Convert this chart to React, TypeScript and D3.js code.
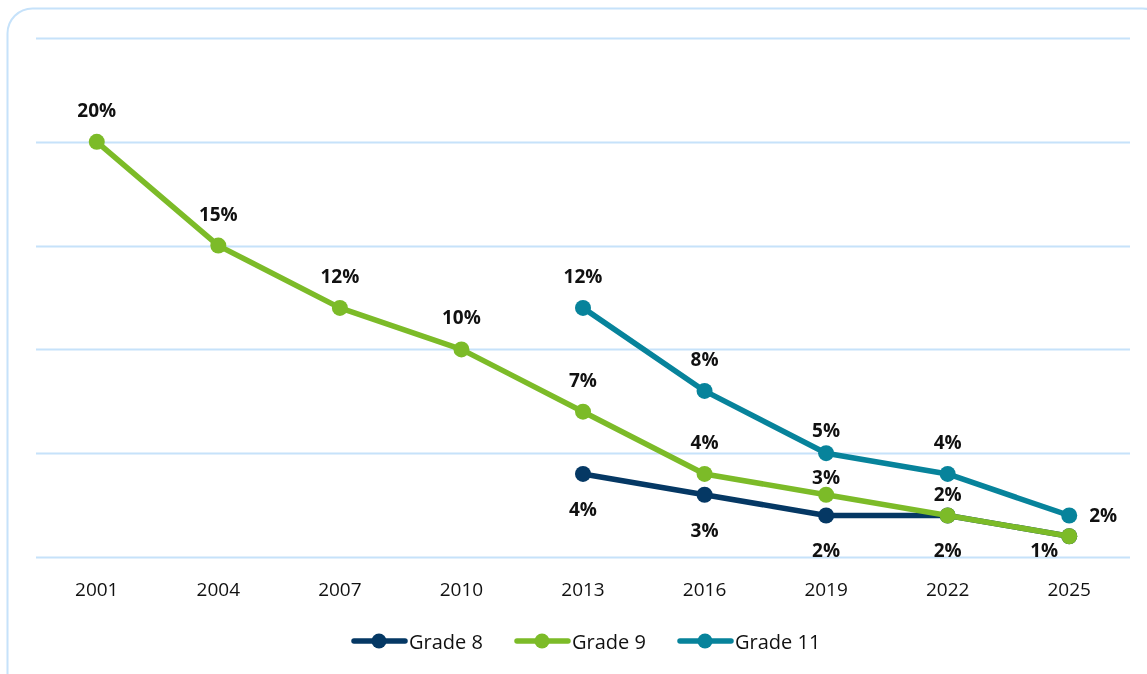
import { useEffect, useRef } from 'react';
import * as d3 from 'd3';

const years = ['2001', '2004', '2007', '2010', '2013', '2016', '2019', '2022', '2025'];
const grade8 = [null, null, null, null, 4, 3, 2, 2, 1];
const grade9 = [20, 15, 12, 10, 7, 4, 3, 2, 1];
const grade11 = [null, null, null, null, 12, 8, 5, 4, 2];
// where each data label sits ('' = no label)
const grade8Pos = ['', '', '', '', 'below', 'below', 'below', 'below', 'leftbelow'];
const grade9Pos = ['above', 'above', 'above', 'above', 'above', 'above', 'above', 'above', ''];
const grade11Pos = ['', '', '', '', 'above', 'above', 'above', 'above', 'right'];
const yTicks = [0, 5, 10, 15, 20, 25];

const series = [
  { name: 'Grade 8', values: grade8, pos: grade8Pos, color: '#053864' },
  { name: 'Grade 9', values: grade9, pos: grade9Pos, color: '#7cbb28' },
  { name: 'Grade 11', values: grade11, pos: grade11Pos, color: '#07839b' },
];

// labels Excel pulled in closer to avoid collisions
const labelNudge: Record<string, number> = {
  'Grade 9-2019': 14,
  'Grade 9-2022': 11,
  'Grade 11-2019': 9,
};

const App = () => {
  const svgRef = useRef<SVGSVGElement>(null);

  useEffect(() => {
    const width = 1147;
    const height = 674;
    const svg = d3.select(svgRef.current);
    svg.selectAll('*').remove();
    svg.attr('width', width).attr('height', height);

    const font = "'Open Sans', 'Noto Sans', sans-serif";

    // outer frame
    svg.append('rect')
      .attr('x', 7.5).attr('y', 8.5)
      .attr('width', 1160).attr('height', 690)
      .attr('rx', 25)
      .attr('fill', '#fff')
      .attr('stroke', '#c6e2fa')
      .attr('stroke-width', 2);

    const x = d3.scaleBand().domain(years).range([36, 1130]).padding(0);
    const y = d3.scaleLinear().domain([0, 25]).range([557, 38]);
    const cx = (d: string) => (x(d) ?? 0) + x.bandwidth() / 2;

    // gridlines
    svg.append('g')
      .selectAll('line')
      .data(yTicks)
      .join('line')
      .attr('x1', 36).attr('x2', 1130)
      .attr('y1', d => Math.round(y(d)) + 0.5)
      .attr('y2', d => Math.round(y(d)) + 0.5)
      .attr('stroke', '#c6e2fa')
      .attr('stroke-width', 2);

    // x axis labels
    svg.append('g')
      .selectAll('text')
      .data(years)
      .join('text')
      .attr('x', d => cx(d))
      .attr('y', 589)
      .attr('dominant-baseline', 'central')
      .attr('text-anchor', 'middle')
      .attr('font-family', font)
      .attr('font-size', 19)
      .attr('fill', '#111')
      .text(d => d);

    const line = d3.line<{ year: string; v: number | null }>()
      .defined(d => d.v != null)
      .x(d => cx(d.year))
      .y(d => y(d.v as number));

    series.forEach(s => {
      const pts = years.map((year, i) => ({ year, v: s.values[i], pos: s.pos[i] }));
      const g = svg.append('g');
      g.append('path')
        .datum(pts)
        .attr('d', line)
        .attr('fill', 'none')
        .attr('stroke', s.color)
        .attr('stroke-width', 5.5)
        .attr('stroke-linejoin', 'round');
      g.selectAll('circle')
        .data(pts.filter(p => p.v != null))
        .join('circle')
        .attr('cx', d => cx(d.year))
        .attr('cy', d => y(d.v as number))
        .attr('r', 8)
        .attr('fill', s.color);
    });

    // data labels on top
    series.forEach(s => {
      const pts = years
        .map((year, i) => ({ year, v: s.values[i], pos: s.pos[i] }))
        .filter(p => p.v != null && p.pos !== '');
      svg.append('g')
        .selectAll('text')
        .data(pts)
        .join('text')
        .attr('x', d => {
          const px = cx(d.year);
          if (d.pos === 'right') return px + 34;
          if (d.pos === 'leftbelow') return px - 25;
          return px;
        })
        .attr('y', d => {
          const py = y(d.v as number);
          const nudge = labelNudge[`${s.name}-${d.year}`] ?? 0;
          if (d.pos === 'above') return py - 32 + nudge;
          if (d.pos === 'below') return py + 35;
          if (d.pos === 'leftbelow') return py + 14;
          return py;
        })
        .attr('dominant-baseline', 'central')
        .attr('text-anchor', 'middle')
        .attr('font-family', font)
        .attr('font-weight', 'bold')
        .attr('font-size', 19)
        .attr('fill', '#111')
        .text(d => `${d.v}%`);
    });

    // legend
    const legendX = [352, 515, 678];
    const legend = svg.append('g');
    series.forEach((s, i) => {
      const lg = legend.append('g').attr('transform', `translate(${legendX[i]},641)`);
      lg.append('line')
        .attr('x1', 2).attr('x2', 53)
        .attr('y1', 0).attr('y2', 0)
        .attr('stroke', s.color)
        .attr('stroke-width', 5.5)
        .attr('stroke-linecap', 'round');
      lg.append('circle').attr('cx', 27).attr('cy', 0).attr('r', 7.5).attr('fill', s.color);
      lg.append('text')
        .attr('x', 57).attr('y', 0)
        .attr('dominant-baseline', 'central')
        .attr('font-family', font)
        .attr('font-size', 20)
        .attr('fill', '#111')
        .text(s.name);
    });
  }, []);

  return (
    <div style={{ position: 'fixed', left: 0, top: 0 }}>
      <svg ref={svgRef} style={{ display: 'block' }} />
    </div>
  );
};

export default App;
